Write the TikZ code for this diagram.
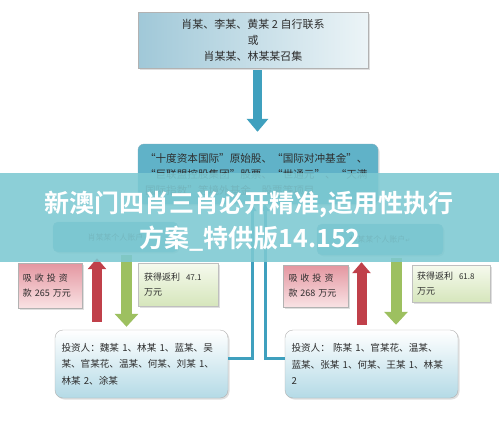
\documentclass[tikz,border=0pt]{standalone}
\usepackage{fontspec}
\usetikzlibrary{arrows.meta,shadows}
\newfontfamily\cjk{Noto Sans CJK SC}
\newfontfamily\cjkbf{Noto Sans CJK SC Bold}
\newfontfamily\sym{DejaVu Sans}
\definecolor{txt}{RGB}{45,45,45}
\definecolor{tealA}{RGB}{63,160,190}
\definecolor{tealbox}{RGB}{96,178,200}
\definecolor{tealdk}{RGB}{70,140,165}
\definecolor{redA}{RGB}{192,64,74}
\definecolor{greenA}{RGB}{157,192,96}
\definecolor{bannerc}{RGB}{125,201,210}
\definecolor{pinkA}{RGB}{228,150,160}
\definecolor{pinkB}{RGB}{249,226,228}
\definecolor{grnA}{RGB}{214,230,188}
\definecolor{grnB}{RGB}{246,250,238}
\definecolor{topA}{RGB}{160,200,216}
\definecolor{topB}{RGB}{236,244,247}
\definecolor{invB}{RGB}{180,218,230}
\tikzset{
  shd/.style={drop shadow={opacity=0.25,shadow xshift=1.5pt,shadow yshift=-1.5pt}},
  topbox/.style={draw=gray!60,shd,left color=topA,right color=topB,
    minimum width=230pt,minimum height=56pt,align=center,font=\cjk\fontsize{11}{16}\selectfont,text=txt},
  midbox/.style={draw=tealdk!70,fill=tealbox,rounded corners=6pt,shd,
    minimum width=240pt,minimum height=60pt,text width=226pt,align=left,font=\cjk\fontsize{10.6}{16}\selectfont,text=txt},
  accbox/.style={draw=tealdk!60,fill=tealbox!85,rounded corners=5pt,shd,
    font=\cjk\fontsize{8}{10}\selectfont,text=gray!45!black},
  pinkbox/.style={draw=gray!60,top color=pinkA,bottom color=pinkB,shd,
    text width=54pt,align=left,font=\cjk\fontsize{9}{15}\selectfont,text=txt},
  grnbox/.style={draw=gray!50,top color=grnB,bottom color=grnA,shd,
    text width=68pt,align=left,font=\cjk\fontsize{9}{15}\selectfont,text=txt},
  invbox/.style={draw=gray!60,top color=white,bottom color=invB,rounded corners=8pt,shd,
    minimum width=173pt,minimum height=68pt,text width=160pt,align=left,
    font=\cjk\fontsize{9.6}{16.5}\selectfont,text=txt},
  tealarr/.style={draw=tealA,line width=9pt,-{Triangle[width=21pt,length=13pt]}},
  redarr/.style={draw=redA,line width=10pt,-{Triangle[width=18pt,length=11pt]}},
  grnarr/.style={draw=greenA,line width=11pt,-{Triangle[width=23pt,length=13pt]}},
  conn/.style={draw=tealA,line width=3pt,-{Triangle[width=9pt,length=7pt]}},
  bannertext/.style={text=white,font=\cjkbf\fontsize{25}{28}\selectfont}
}
\begin{document}
\begin{tikzpicture}[x=1pt,y=-1pt]
\useasboundingbox (0,0) rectangle (499,437);
\fill[white] (0,0) rectangle (499,437);

\node[topbox] (top) at (253,40) {肖某、李某、黄某 2 自行联系\\或\\肖某某、林某某召集};
\node[midbox] (mid) at (258,174) {“十度资本国际”原始股、“国际对冲基金”、\\“巨联盟控股集团”股票、“世通元”、“天满\\国际指数”等境外基金、股票等项目};

\node[accbox,minimum width=125pt,minimum height=30pt] (acc1) at (115.5,237) {肖某某个人账户};
\node[accbox,minimum width=126pt,minimum height=31pt] (acc2) at (380,239.5) {林某某个人账户{\sym\fontsize{6}{6}\selectfont ↵}};

\node[pinkbox,minimum width=64pt,minimum height=45pt] (pk1) at (50,285.5) {吸\hspace{3pt}收\hspace{3pt}投\hspace{3pt}资\\款 265 万元};
\node[pinkbox,minimum width=65pt,minimum height=42pt] (pk2) at (315.5,286) {吸\hspace{3pt}收\hspace{3pt}投\hspace{3pt}资\\款 268 万元};
\node[grnbox,minimum width=80pt,minimum height=43pt] (gr1) at (178,284.5) {获得返利\hspace{6pt}{\fontsize{8}{15}\selectfont 47.1}\\万元};
\node[grnbox,minimum width=78pt,minimum height=37pt] (gr2) at (451,283.5) {获得返利\hspace{6pt}{\fontsize{8}{15}\selectfont 61.8}\\万元};

\node[invbox] (inv1) at (141.5,364) {投资人：魏某 1、林某 1、蓝某、吴\\某、官某花、温某、何某、刘某 1、\\林某 2、涂某};
\node[invbox] (inv2) at (371.5,364) {投资人： 陈某 1、官某花、温某、\\蓝某、张某 1、何某、王某 1、林某\\2};

% arrows
\coordinate (tx) at (257.5,0);
\draw[tealarr,shorten <=2pt,shorten >=12pt] (top.south -| tx) -- (mid.north -| tx);
\coordinate (rx1) at (97,0);
\coordinate (gx1) at (126.5,0);
\coordinate (rx2) at (361.5,0);
\coordinate (gx2) at (396,0);
\draw[redarr,shorten <=8pt,shorten >=6pt] (inv1.north -| rx1) -- (acc1.south -| rx1);
\draw[grnarr,shorten <=3pt,shorten >=3pt] (acc1.south -| gx1) -- (inv1.north -| gx1);
\draw[redarr,shorten <=5pt,shorten >=7pt] (inv2.north -| rx2) -- (acc2.south -| rx2);
\draw[grnarr,shorten <=3pt,shorten >=5pt] (acc2.south -| gx2) -- (inv2.north -| gx2);

\coordinate (j1) at (252,358);
\coordinate (j2) at (265,358);
\draw[conn] (inv1.east |- j1) -- (j1) -- (j1 |- mid.south);
\draw[conn] (inv2.west |- j2) -- (j2) -- (j2 |- mid.south);

% banner overlay
\fill[bannerc,opacity=0.88] (0,173) rectangle (499,262);
\node[bannertext] (b1) at (249,204) {新澳门四肖三肖必开精准,适用性执行};
\node[bannertext] (b2) at (250,239) {方案\_特供版14.152};
\end{tikzpicture}
\end{document}
